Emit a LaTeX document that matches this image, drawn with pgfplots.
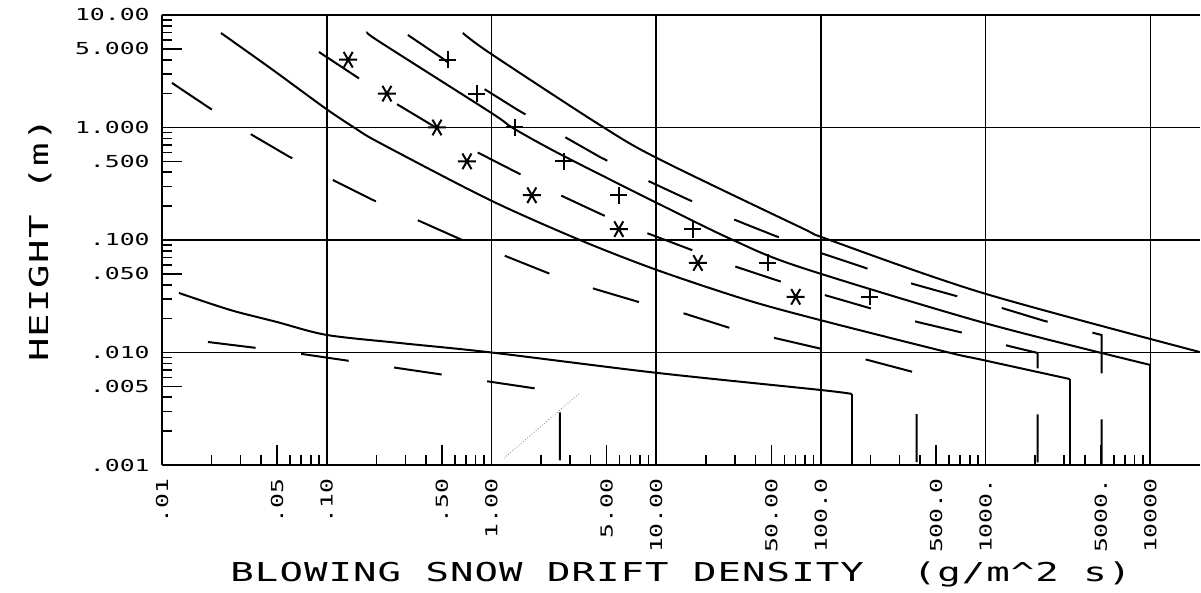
\documentclass[border=0pt]{standalone}
\usepackage{fontspec}
\usepackage{pgfplots}
\pgfplotsset{compat=1.18}
% plotter-like lettering
\newfontfamily\plotfont[FakeStretch=1.5]{DejaVu Sans Mono}
\newfontfamily\labfont[FakeStretch=1.5,LetterSpace=4]{DejaVu Sans Mono}

\begin{document}
\begin{tikzpicture}
\useasboundingbox (0,0) rectangle (600.5pt,296.5pt);
\begin{axis}[
  at={(81pt,64pt)}, anchor=south west,
  scale only axis, width=519pt, height=225pt,
  xmode=log, ymode=log,
  xmin=0.01, xmax=20000, ymin=0.001, ymax=10,
  axis x line=box, axis y line=left,
  axis line style={-, line width=1pt},
  xtick pos=bottom, ytick pos=left,
  tick align=inside,
  tick style={black, line width=0.8pt},
  major tick length=5pt, minor tick length=5pt,
  xmajorgrids, ymajorgrids,
  major grid style={black, line width=0.8pt},
  xtick={0.01,0.1,1,10,100,1000,10000},
  xticklabels={.01,.10,1.00,10.00,100.0,1000.,10000},
  extra x ticks={0.05,0.5,5,50,500,5000},
  extra x tick labels={.05,.50,5.00,50.00,500.0,5000.},
  ytick={0.001,0.01,0.1,1,10},
  yticklabels={.001,.010,.100,1.000,10.00},
  extra y ticks={0.005,0.05,0.5,5},
  extra y tick labels={.005,.050,.500,5.000},
  extra tick style={grid=none, major tick length=10pt},
  xticklabel style={font=\plotfont\fontsize{8.25}{9}\selectfont, rotate=90, anchor=east, inner sep=0pt},
  yticklabel style={font=\plotfont\fontsize{8.25}{9}\selectfont, anchor=east, inner sep=0pt},
  xticklabel shift=6.5pt, yticklabel shift=6pt,
  xlabel={BLOWING SNOW DRIFT DENSITY\ \ (g/m\textasciicircum2 s)},
  xlabel style={font=\labfont\fontsize{13}{15}\selectfont, at={(axis description cs:0.5,-0.26)}, anchor=base},
  ylabel={HEIGHT (m)},
  ylabel style={font=\labfont\fontsize{13}{15}\selectfont, at={(axis description cs:-0.1175,0.5)}, anchor=center},
  every axis plot/.append style={black, line width=1pt},
]
% lower solid curve
\addplot[smooth] coordinates {(0.01268,0.0338) (0.0259,0.0239) (0.0499,0.01866) (0.1,0.01432) (0.278,0.01214) (1,0.01) (10,0.0066) (100,0.00464) (154,0.00428)};
\addplot[no marks] coordinates {(154,0.00428) (154,0.001)};
% lower dashed curve
\addplot[dash pattern=on 24pt off 23pt] coordinates {(0.0190,0.0124) (0.0377,0.01096) (0.0708,0.0097) (0.1384,0.0084) (0.521,0.00631) (1.94,0.00474) (2.60,0.00446) (2.60,0.001)};
% dashed D1
\addplot[dash pattern=on 24pt off 23pt] coordinates {(0.0115,2.489) (0.0190,1.521) (0.0328,0.912) (0.0582,0.558) (0.1031,0.3556) (0.1905,0.2269) (0.3428,0.1538) (0.643,0.1021) (1.172,0.0736) (2.198,0.0509) (4.064,0.0374) (7.834,0.0281) (14.49,0.02244) (27.99,0.01652) (52.5,0.01345) (95.7,0.01096) (192.3,0.00858) (381,0.00658) (381,0.001)};
% dashed D2
\addplot[dash pattern=on 24pt off 23pt] coordinates {(0.0897,4.69) (0.1524,2.81) (0.2594,1.652) (0.454,1.01) (0.815,0.605) (1.445,0.394) (2.60,0.2512) (4.74,0.1668) (8.77,0.1153) (16.44,0.0815) (30.8,0.0575) (57.8,0.0424) (105.4,0.0324) (206,0.02438) (386,0.01866) (736,0.0149) (1380,0.01142) (2070,0.0099) (2070,0.001)};
% dashed D3
\addplot[dash pattern=on 24pt off 23pt] coordinates {(0.311,6.64) (0.500,4.15) (0.826,2.39) (1.445,1.431) (2.53,0.893) (4.55,0.547) (8.19,0.3556) (14.93,0.236) (27.2,0.160) (51.1,0.1107) (95.7,0.0782) (179.5,0.0575) (327,0.0424) (631,0.0324) (1200,0.02535) (2280,0.01905) (4276,0.01521) (5058,0.01432) (5058,0.001)};
% solid S1
\addplot[smooth] coordinates {(0.0228,6.92) (0.0472,3.24) (0.0975,1.49) (0.148,0.99) (0.2104,0.728) (0.977,0.2269) (3.44,0.1) (10.1,0.0541) (35.5,0.0293) (98.5,0.01945) (579,0.0101) (960,0.00858) (3236,0.00581)};
\addplot[no marks] coordinates {(3236,0.00581) (3236,0.001)};
% solid S2
\addplot[smooth] coordinates {(0.1778,6.92) (0.2104,5.75) (1.0,1.345) (1.349,0.99) (2.60,0.581) (10.1,0.2133) (29.2,0.1) (74.3,0.0575) (986,0.01828) (10000,0.00775)};
\addplot[no marks] coordinates {(10000,0.00775) (10000,0.001)};
% solid S3
\addplot[smooth] coordinates {(0.670,6.92) (0.977,4.59) (4.55,1.052) (10.1,0.535) (74.3,0.1306) (113,0.1) (960,0.0338) (19900,0.0101)};
% faint dotted stroke
\addplot[gray, line width=0.4pt, densely dotted] coordinates {(1.19,0.00115) (3.44,0.00436)};
% measured points
\addplot[only marks, mark=asterisk, mark size=4.5pt, mark options={rotate=90, line width=1pt}] coordinates {(0.135,4) (0.232,2) (0.467,1) (0.710,0.5) (1.758,0.25) (5.93,0.125) (17.9,0.0625) (70.3,0.03125)};
\addplot[only marks, mark=+, mark size=4.25pt, mark options={line width=1pt}] coordinates {(0.543,4) (0.815,2) (1.387,1) (2.75,0.5) (5.93,0.25) (16.7,0.125) (47.5,0.0625) (198,0.03125)};
\end{axis}
\end{tikzpicture}
\end{document}
